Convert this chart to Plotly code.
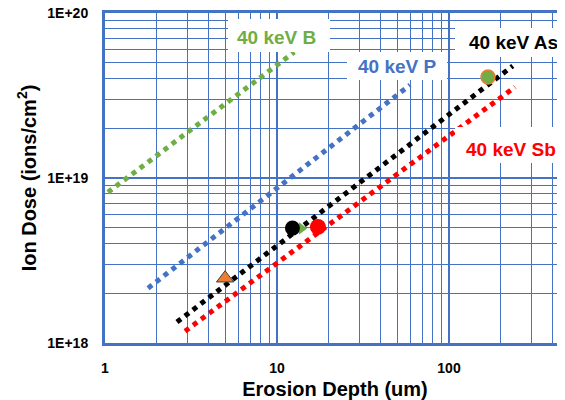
import plotly.graph_objects as go

# ---- data ----
b_x = [1.04, 12.6]
b_y = [8.2e18, 5.8e19]
p_x = [1.78, 59.3]
p_y = [2.15e18, 3.66e19]
as_x = [2.62, 235]
as_y = [1.34e18, 4.78e19]
sb_x = [2.92, 242]
sb_y = [1.18e18, 3.56e19]

pt_green_circle = ([168.6], [4.09e19])
pt_black_circle = ([12.3], [4.97e18])
pt_green_tri = ([13.9], [4.95e18])
pt_red_circle = ([17.3], [5.05e18])
pt_orange_tri = ([4.99], [2.47e18])

x_ticks = [1, 10, 100]
x_ticktext = ["1", "10", "100"]
y_ticks = [1e18, 1e19, 1e20]
y_ticktext = ["1E+18", "1E+19", "1E+20"]
x_minor = [d * m for d in (1, 10, 100) for m in range(2, 10)]
y_minor = [d * m for d in (1e18, 1e19) for m in range(2, 10)]

labels = ["40 keV B", "40 keV P", "40 keV As", "40 keV Sb"]
label_colors = ["#70AD47", "#4472C4", "#000000", "#FF0000"]

# ---- layout geometry (page body has an 8px offset) ----
OFF = 8
W, H = 565 - OFF, 400 - OFF
L, R, T, B = 105 - OFF, 0, 13 - OFF, 57
pw, ph = W - L - R, H - T - B

def px(x):
    return (x - OFF - L) / pw

def py(y):
    return (H + OFF - B - y) / ph

FONT = "Arial, Liberation Sans"

fig = go.Figure()
line_specs = [(b_x, b_y, "#70AD47"), (p_x, p_y, "#4472C4"),
              (as_x, as_y, "#000000"), (sb_x, sb_y, "#FF0000")]
for xs, ys, c in line_specs:
    fig.add_trace(go.Scatter(x=xs, y=ys, mode="lines",
                             line=dict(color=c, width=5, dash="5px,5px"),
                             showlegend=False, hoverinfo="skip"))

fig.add_trace(go.Scatter(x=pt_green_circle[0], y=pt_green_circle[1], mode="markers",
                         marker=dict(symbol="circle", size=14, color="#70AD47",
                                     line=dict(color="#ED7D31", width=1.5)), showlegend=False))
fig.add_trace(go.Scatter(x=pt_green_tri[0], y=pt_green_tri[1], mode="markers",
                         marker=dict(symbol="triangle-right", size=11, color="#70AD47",
                                     line=dict(width=0)), showlegend=False))
fig.add_trace(go.Scatter(x=pt_black_circle[0], y=pt_black_circle[1], mode="markers",
                         marker=dict(symbol="circle", size=15, color="#000000",
                                     line=dict(width=0)), showlegend=False))
fig.add_trace(go.Scatter(x=pt_red_circle[0], y=pt_red_circle[1], mode="markers",
                         marker=dict(symbol="circle", size=16, color="#FF0000",
                                     line=dict(width=0)), showlegend=False))
fig.add_trace(go.Scatter(x=pt_orange_tri[0], y=pt_orange_tri[1], mode="markers",
                         marker=dict(symbol="triangle-up", size=15, color="#ED7D31",
                                     line=dict(color="#404040", width=1)), showlegend=False))

# white label boxes (screen pixel extents) and label centres
boxes = [(228, 330, 19, 52), (347, 447, 52, 80), (455, 566, 28, 57), (455, 566, 127, 163)]
centres = [(276, 37), (396.5, 66), (513, 42.5), (511, 149)]
for (x0, x1, y0, y1) in boxes:
    fig.add_shape(type="rect", xref="paper", yref="paper",
                  x0=px(x0), x1=px(x1), y0=py(y1), y1=py(y0),
                  fillcolor="white", line=dict(width=0), layer="above")
for text, c, (cx, cy) in zip(labels, label_colors, centres):
    fig.add_annotation(text="<b>%s</b>" % text, xref="paper", yref="paper",
                       x=px(cx), y=py(cy), xanchor="center", yanchor="middle",
                       showarrow=False, font=dict(size=19, color=c, family=FONT))

grid_c = "#4472C4"
fig.update_xaxes(type="log", range=[0, pw / 172.0],
                 tickvals=x_ticks, ticktext=["<b>%s</b>" % t for t in x_ticktext], ticks="",
                 showgrid=True, gridcolor=grid_c, gridwidth=2,
                 minor=dict(tickvals=x_minor, showgrid=True, gridcolor=grid_c, gridwidth=1, ticks=""),
                 showline=True, linecolor=grid_c, linewidth=3, mirror=True,
                 zeroline=False, ticklabelstandoff=10, ticklabeloverflow="allow",
                 tickfont=dict(size=14, color="#000", family=FONT),
                 title=dict(text="<b>Erosion Depth (um)</b>", standoff=8,
                            font=dict(size=20, color="#000", family=FONT)))
fig.update_yaxes(type="log", range=[18, 20],
                 tickvals=y_ticks, ticktext=["<b>%s</b>" % t for t in y_ticktext], ticks="",
                 showgrid=True, gridcolor=grid_c, gridwidth=2,
                 minor=dict(tickvals=y_minor, showgrid=True, gridcolor=grid_c, gridwidth=1, ticks=""),
                 showline=True, linecolor=grid_c, linewidth=3, mirror=False,
                 zeroline=False, ticklabelstandoff=11, ticklabeloverflow="allow",
                 tickfont=dict(size=14, color="#000", family=FONT),
                 title=dict(text="<b>Ion Dose (ions/cm<sup>2</sup>)</b>", standoff=6,
                            font=dict(size=20, color="#000", family=FONT)))

fig.update_layout(width=W, height=H, margin=dict(l=L, r=R, t=T, b=B, autoexpand=False),
                  paper_bgcolor="white", plot_bgcolor="white", showlegend=False)

fig.write_html("out.html")
